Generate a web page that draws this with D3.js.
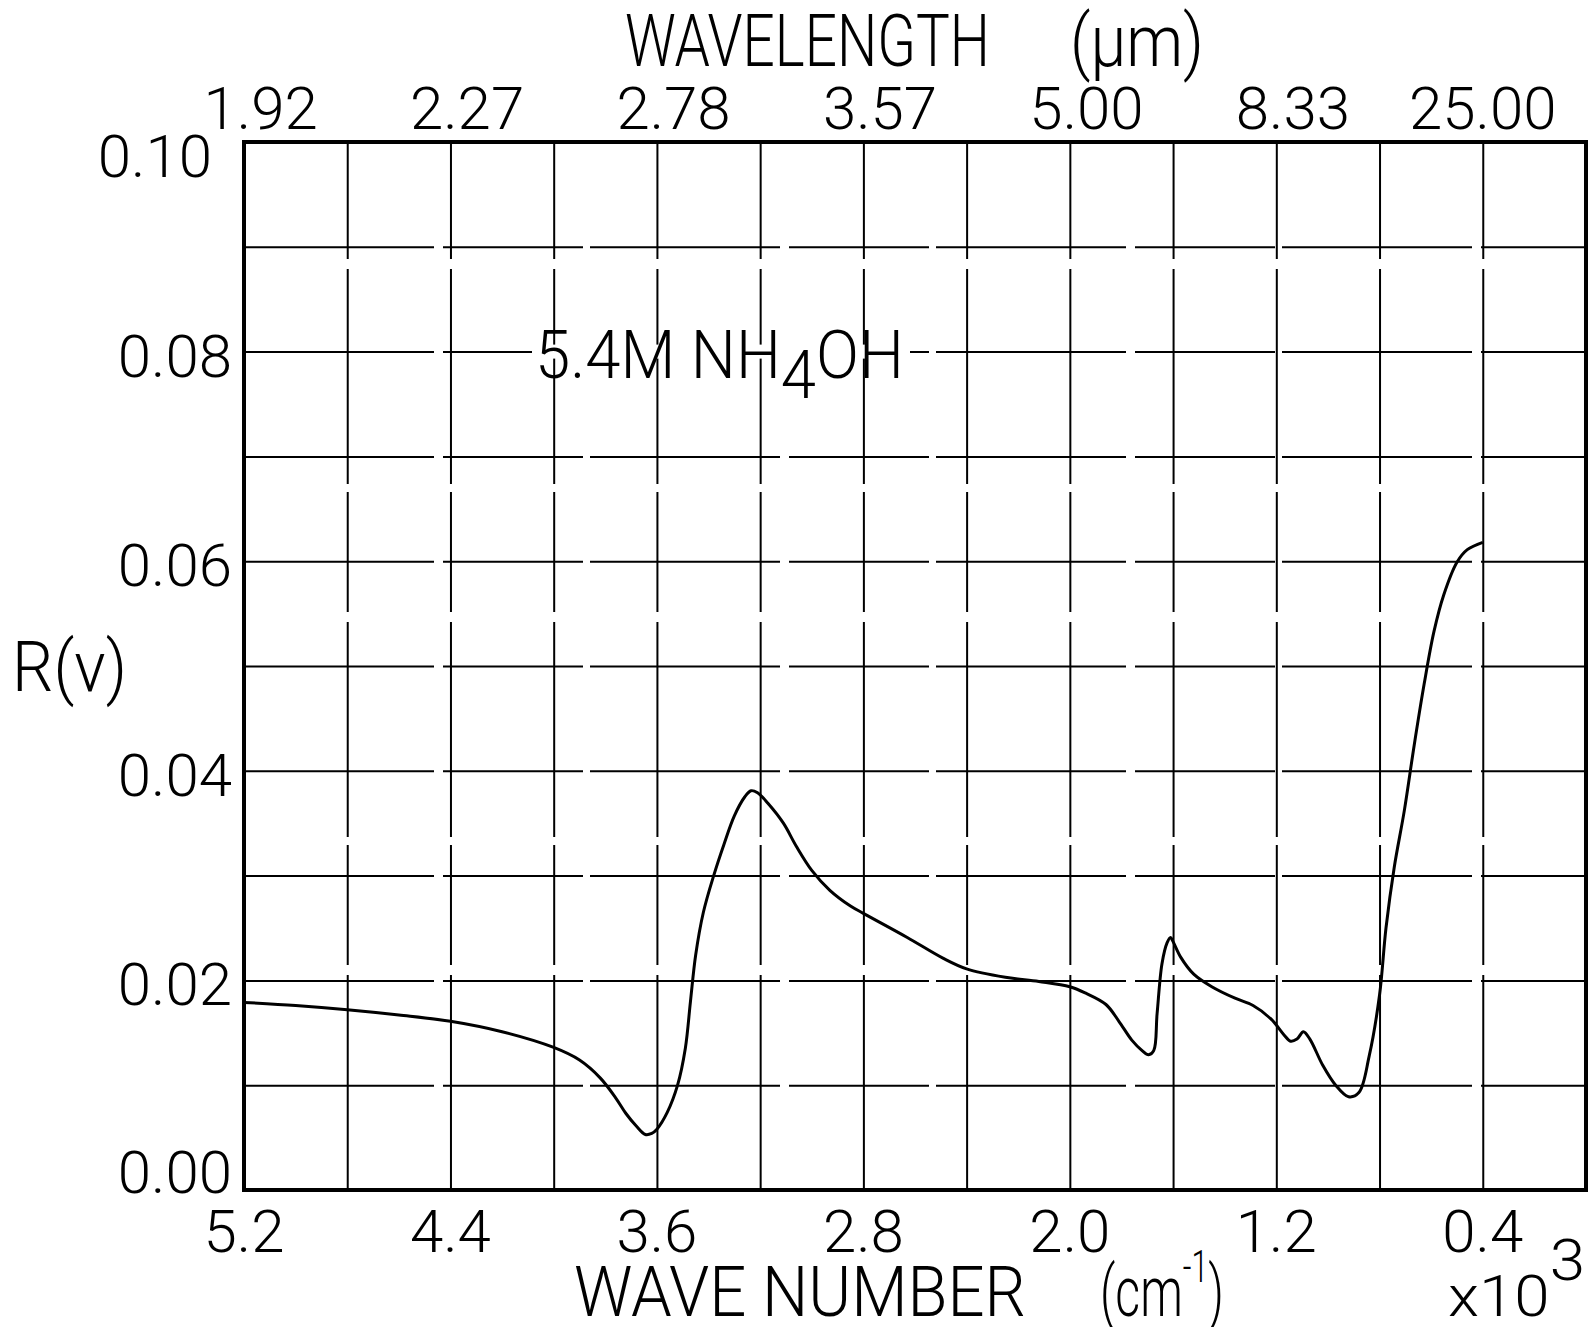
<!DOCTYPE html>
<html>
<head>
<meta charset="utf-8">
<script src="https://cdn.jsdelivr.net/npm/d3@7"></script>
<style>
body { margin: 0; background: #fff; }
text { font-family: Roboto, "DejaVu Sans", sans-serif; font-weight: 300; fill: #000; }
</style>
</head>
<body>
<div id="content"></div>
<script>
const width = 1593;
const height = 1327;
const margin = {top: 142, right: 7, bottom: 137, left: 244};

// wave number (x10^3 cm^-1) and reflectance R
const waveNumber = [5.2, 5.0, 4.8, 4.6, 4.4, 4.2, 4.0, 3.9, 3.82, 3.76, 3.72, 3.68, 3.645, 3.62, 3.6,
    3.56, 3.52, 3.49, 3.47, 3.45, 3.42, 3.38, 3.34, 3.30, 3.26, 3.235, 3.21, 3.17, 3.11, 3.06,
    3.00, 2.93, 2.85, 2.80, 2.63, 2.49, 2.40, 2.25, 2.12, 2.0, 1.94, 1.86, 1.81, 1.76, 1.72, 1.695,
    1.675, 1.662, 1.643, 1.623, 1.61, 1.60, 1.57, 1.52, 1.45, 1.36, 1.29, 1.22, 1.17, 1.145,
    1.12, 1.095, 1.07, 1.02, 0.97, 0.92, 0.88, 0.84, 0.80, 0.775, 0.743, 0.704, 0.666, 0.627,
    0.589, 0.551, 0.50, 0.46, 0.40];
const reflect = [0.0179, 0.0176, 0.0172, 0.0167, 0.0161, 0.0151, 0.0136, 0.0124, 0.0107, 0.0088, 0.0073, 0.0061, 0.0053, 0.0054, 0.0058,
    0.0074, 0.0100, 0.0135, 0.0180, 0.0224, 0.0265, 0.0300, 0.0330, 0.0357, 0.0375, 0.0381, 0.0379, 0.0369, 0.0350, 0.0328,
    0.0305, 0.0286, 0.0271, 0.0264, 0.0241, 0.0221, 0.0211, 0.0203, 0.0199, 0.0194, 0.0188, 0.0177, 0.0161, 0.0143, 0.0133, 0.0129,
    0.0133, 0.0168, 0.0216, 0.0236, 0.0241, 0.0237, 0.0222, 0.0206, 0.0194, 0.0183, 0.0176, 0.0163, 0.0148, 0.0142,
    0.0144, 0.0151, 0.0144, 0.0119, 0.0100, 0.0089, 0.0093, 0.0128, 0.0186, 0.0250, 0.0308, 0.0362, 0.0424, 0.0483,
    0.0533, 0.0568, 0.0599, 0.0611, 0.0618];

const xTicks = [5.2, 4.4, 3.6, 2.8, 2.0, 1.2, 0.4];
const xTickLabels = ["5.2", "4.4", "3.6", "2.8", "2.0", "1.2", "0.4"];
const topTickLabels = ["1.92", "2.27", "2.78", "3.57", "5.00", "8.33", "25.00"];
const xGrid = [4.8, 4.4, 4.0, 3.6, 3.2, 2.8, 2.4, 2.0, 1.6, 1.2, 0.8, 0.4];
const yTicks = [0, 0.02, 0.04, 0.06, 0.08, 0.10];
const yTickLabels = ["0.00", "0.02", "0.04", "0.06", "0.08", "0.10"];
const yGrid = [0.01, 0.02, 0.03, 0.04, 0.05, 0.06, 0.07, 0.08, 0.09];

const svg = d3.select("#content").append("svg")
    .attr("width", width)
    .attr("height", height);

const x = d3.scaleLinear().domain([5.2, 0]).range([margin.left, width - margin.right]);
const y = d3.scaleLinear().domain([0, 0.10]).range([height - margin.bottom, margin.top]);

// grid
svg.append("g")
    .attr("transform", `translate(0,${y(0)})`)
    .call(d3.axisBottom(x).tickValues(xGrid).tickSize(-(y(0) - y(0.10))).tickFormat(""))
    .call(g => g.select(".domain").remove())
    .selectAll("line")
    .attr("stroke", "#000").attr("stroke-width", 2)
    .attr("stroke-dasharray", "215,10,120,8");

svg.append("g")
    .attr("transform", `translate(${x(5.2)},0)`)
    .call(d3.axisLeft(y).tickValues(yGrid).tickSize(-(x(0) - x(5.2))).tickFormat(""))
    .call(g => g.select(".domain").remove())
    .selectAll("line")
    .attr("stroke", "#000").attr("stroke-width", 2)
    .attr("stroke-dasharray", "190,9,140,7");

// frame
svg.append("rect")
    .attr("x", x(5.2)).attr("y", y(0.10))
    .attr("width", x(0) - x(5.2)).attr("height", y(0) - y(0.10))
    .attr("fill", "none").attr("stroke", "#000").attr("stroke-width", 4);

// tick labels with decimal point on the tick
function decimalLabel(px, baseline, label, size) {
    const i = label.indexOf(".");
    const at = px - 0.12 * size;
    svg.append("text").attr("x", at).attr("y", baseline)
        .attr("text-anchor", "end").attr("font-size", size).text(label.slice(0, i));
    svg.append("text").attr("x", at).attr("y", baseline)
        .attr("text-anchor", "start").attr("font-size", size).text(label.slice(i));
}

xTicks.forEach((t, i) => {
    decimalLabel(x(t), 1252, xTickLabels[i], 60);
    decimalLabel(x(t), 129, topTickLabels[i], 60);
});

yTicks.forEach((t, i) => {
    const cy = Math.min(Math.max(y(t) + 4, margin.top + 14), y(0) - 18);
    svg.append("text")
        .attr("x", t == 0.10 ? 212 : 232).attr("y", cy + 21)
        .attr("text-anchor", "end").attr("font-size", 60)
        .text(yTickLabels[i]);
});

// squeeze a text so it spans the given width
function fitText(sel, w) {
    const b = sel.node().getBBox();
    const sx = w / b.width;
    const tx = +sel.attr("x"), ty = +sel.attr("y");
    sel.attr("transform", `translate(${tx},${ty}) scale(${sx},1) translate(${-tx},${-ty})`);
    return sel;
}

function label(px, py, size) {
    return svg.append("text").attr("x", px).attr("y", py).attr("font-size", size);
}

fitText(label(625, 66, 72).text("WAVELENGTH"), 365);
fitText(label(1070, 66, 72).text("(μm)"), 134);
fitText(label(574, 1316, 70).text("WAVE NUMBER"), 452);

const cm = label(1100, 1316, 70);
cm.append("tspan").text("(cm");
cm.append("tspan").attr("dy", -34).attr("font-size", 44).text("-1");
cm.append("tspan").attr("dy", 34).text(")");
fitText(cm, 124);

const exp = label(1448, 1316, 58);
exp.append("tspan").text("x10");
exp.append("tspan").attr("dy", -36).text("3");
fitText(exp, 137);

fitText(label(12, 691, 70).text("R(ν)"), 115);

// sample annotation, knocking out the grid line behind it
svg.append("rect")
    .attr("x", 532).attr("y", y(0.08) - 7)
    .attr("width", 378).attr("height", 14)
    .attr("fill", "#fff");
const note = label(535, 378, 66);
note.append("tspan").text("5.4M  NH");
note.append("tspan").attr("dy", 20).text("4");
note.append("tspan").attr("dy", -20).text("OH");
fitText(note, 369);

// curve
const pts = waveNumber.map((w, i) => [w, reflect[i]]);
svg.append("path")
    .datum(pts)
    .attr("fill", "none")
    .attr("stroke", "#000")
    .attr("stroke-width", 3)
    .attr("stroke-linejoin", "round")
    .attr("d", d3.line().x(d => x(d[0])).y(d => y(d[1])).curve(d3.curveCatmullRom.alpha(0.5)));
</script>
</body>
</html>
